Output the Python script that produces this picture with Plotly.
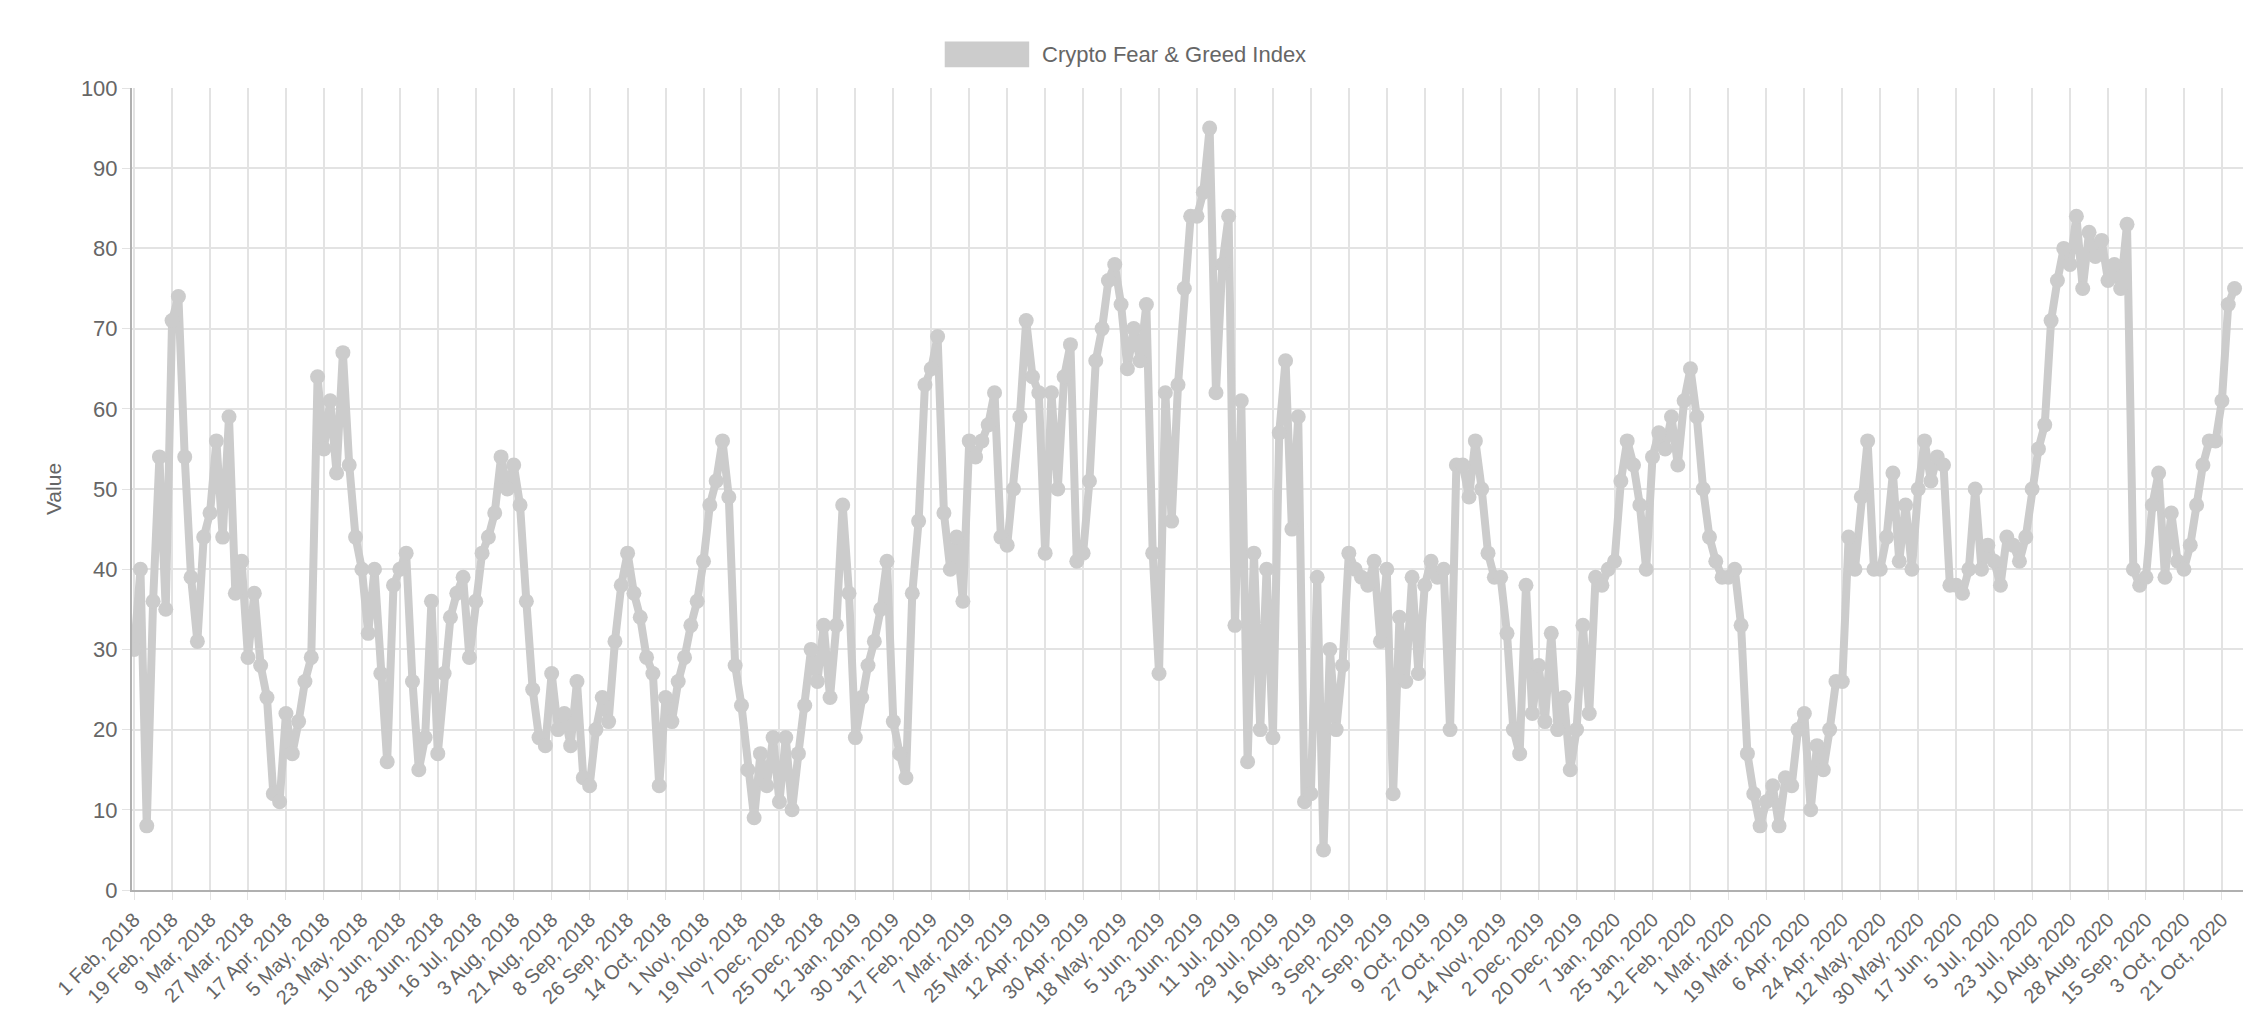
import plotly.graph_objects as go

tick_labels = ["1 Feb, 2018","19 Feb, 2018","9 Mar, 2018","27 Mar, 2018","17 Apr, 2018","5 May, 2018","23 May, 2018",
"10 Jun, 2018","28 Jun, 2018","16 Jul, 2018","3 Aug, 2018","21 Aug, 2018","8 Sep, 2018","26 Sep, 2018","14 Oct, 2018",
"1 Nov, 2018","19 Nov, 2018","7 Dec, 2018","25 Dec, 2018","12 Jan, 2019","30 Jan, 2019","17 Feb, 2019","7 Mar, 2019",
"25 Mar, 2019","12 Apr, 2019","30 Apr, 2019","18 May, 2019","5 Jun, 2019","23 Jun, 2019","11 Jul, 2019","29 Jul, 2019",
"16 Aug, 2019","3 Sep, 2019","21 Sep, 2019","9 Oct, 2019","27 Oct, 2019","14 Nov, 2019","2 Dec, 2019","20 Dec, 2019",
"7 Jan, 2020","25 Jan, 2020","12 Feb, 2020","1 Mar, 2020","19 Mar, 2020","6 Apr, 2020","24 Apr, 2020","12 May, 2020",
"30 May, 2020","17 Jun, 2020","5 Jul, 2020","23 Jul, 2020","10 Aug, 2020","28 Aug, 2020","15 Sep, 2020","3 Oct, 2020",
"21 Oct, 2020"]

# index values sampled every 3 days (6 per tick interval)
values = [
30,40,8,36,54,35, 71,74,54,39,31,44, 47,56,44,59,37,41, 29,37,28,24,12,11, 22,17,21,26,29,64,
55,61,52,67,53,44, 40,32,40,27,16,38, 40,42,26,15,19,36, 17,27,34,37,39,29, 36,42,44,47,54,50,
53,48,36,25,19,18, 27,20,22,18,26,14, 13,20,24,21,31,38, 42,37,34,29,27,13, 24,21,26,29,33,36,
41,48,51,56,49,28, 23,15,9,17,13,19, 11,19,10,17,23,30, 26,33,24,33,48,37, 19,24,28,31,35,41,
21,17,14,37,46,63, 65,69,47,40,44,36, 56,54,56,58,62,44, 43,50,59,71,64,62, 42,62,50,64,68,41,
42,51,66,70,76,78, 73,65,70,66,73,42, 27,62,46,63,75,84, 84,87,95,62,78,84, 33,61,16,42,20,40,
19,57,66,45,59,11, 12,39,5,30,20,28, 42,40,39,38,41,31, 40,12,34,26,39,27, 38,41,39,40,20,53,
53,49,56,50,42,39, 39,32,20,17,38,22, 28,21,32,20,24,15, 20,33,22,39,38,40, 41,51,56,53,48,40,
54,57,55,59,53,61, 65,59,50,44,41,39, 39,40,33,17,12,8, 11,13,8,14,13,20, 22,10,18,15,20,26,
26,44,40,49,56,40, 40,44,52,41,48,40, 50,56,51,54,53,38, 38,37,40,50,40,43, 41,38,44,43,41,44,
50,55,58,71,76,80, 78,84,75,82,79,81, 76,78,75,83,40,38, 39,48,52,39,47,41, 40,43,48,53,56,56,
61,73,75]

step = 3
per_tick = 18
x = [i * step for i in range(len(values))]
tickvals = [i * per_tick for i in range(len(tick_labels))]

font = "Liberation Sans, Arial, sans-serif"
fig = go.Figure(go.Scatter(
    x=x, y=values, mode="lines+markers", name="Crypto Fear & Greed Index",
    line=dict(color="#cccccc", width=8),
    marker=dict(color="#cccccc", size=15),
    showlegend=False,
))

fig.update_layout(
    width=2254, height=1032, paper_bgcolor="white", plot_bgcolor="white",
    margin=dict(l=124, r=19, t=80, b=150),
    font=dict(family=font, color="#666666", size=20),
)
fig.update_xaxes(
    range=[-1, x[-1] + 4], tickmode="array", tickvals=tickvals, ticktext=tick_labels,
    tickangle=-45, showgrid=True, gridcolor="#e3e3e3", gridwidth=1.5,
    ticks="outside", ticklen=8, tickcolor="#e3e3e3",
    showline=True, linecolor="#b0b0b0", linewidth=2, zeroline=False,
    tickfont=dict(size=20, color="#666666"),
)
fig.update_yaxes(
    range=[0, 100], dtick=10, showgrid=True, gridcolor="#e3e3e3", gridwidth=1.5,
    ticks="outside", ticklen=8, tickcolor="#e3e3e3",
    showline=True, linecolor="#b0b0b0", linewidth=2, zeroline=False,
    title=dict(text="Value", font=dict(size=21, color="#666666"), standoff=14),
    tickfont=dict(size=22, color="#666666"),
)
fig.add_shape(type="rect", xref="paper", yref="paper",
              x0=0.385, x1=0.425, y0=1.026, y1=1.058,
              fillcolor="#cccccc", line=dict(width=0))
fig.add_annotation(text="Crypto Fear & Greed Index", xref="paper", yref="paper",
                   x=0.430, y=1.042, xanchor="left", yanchor="middle", showarrow=False,
                   font=dict(size=22, color="#666666"))
fig.write_html("out.html")
